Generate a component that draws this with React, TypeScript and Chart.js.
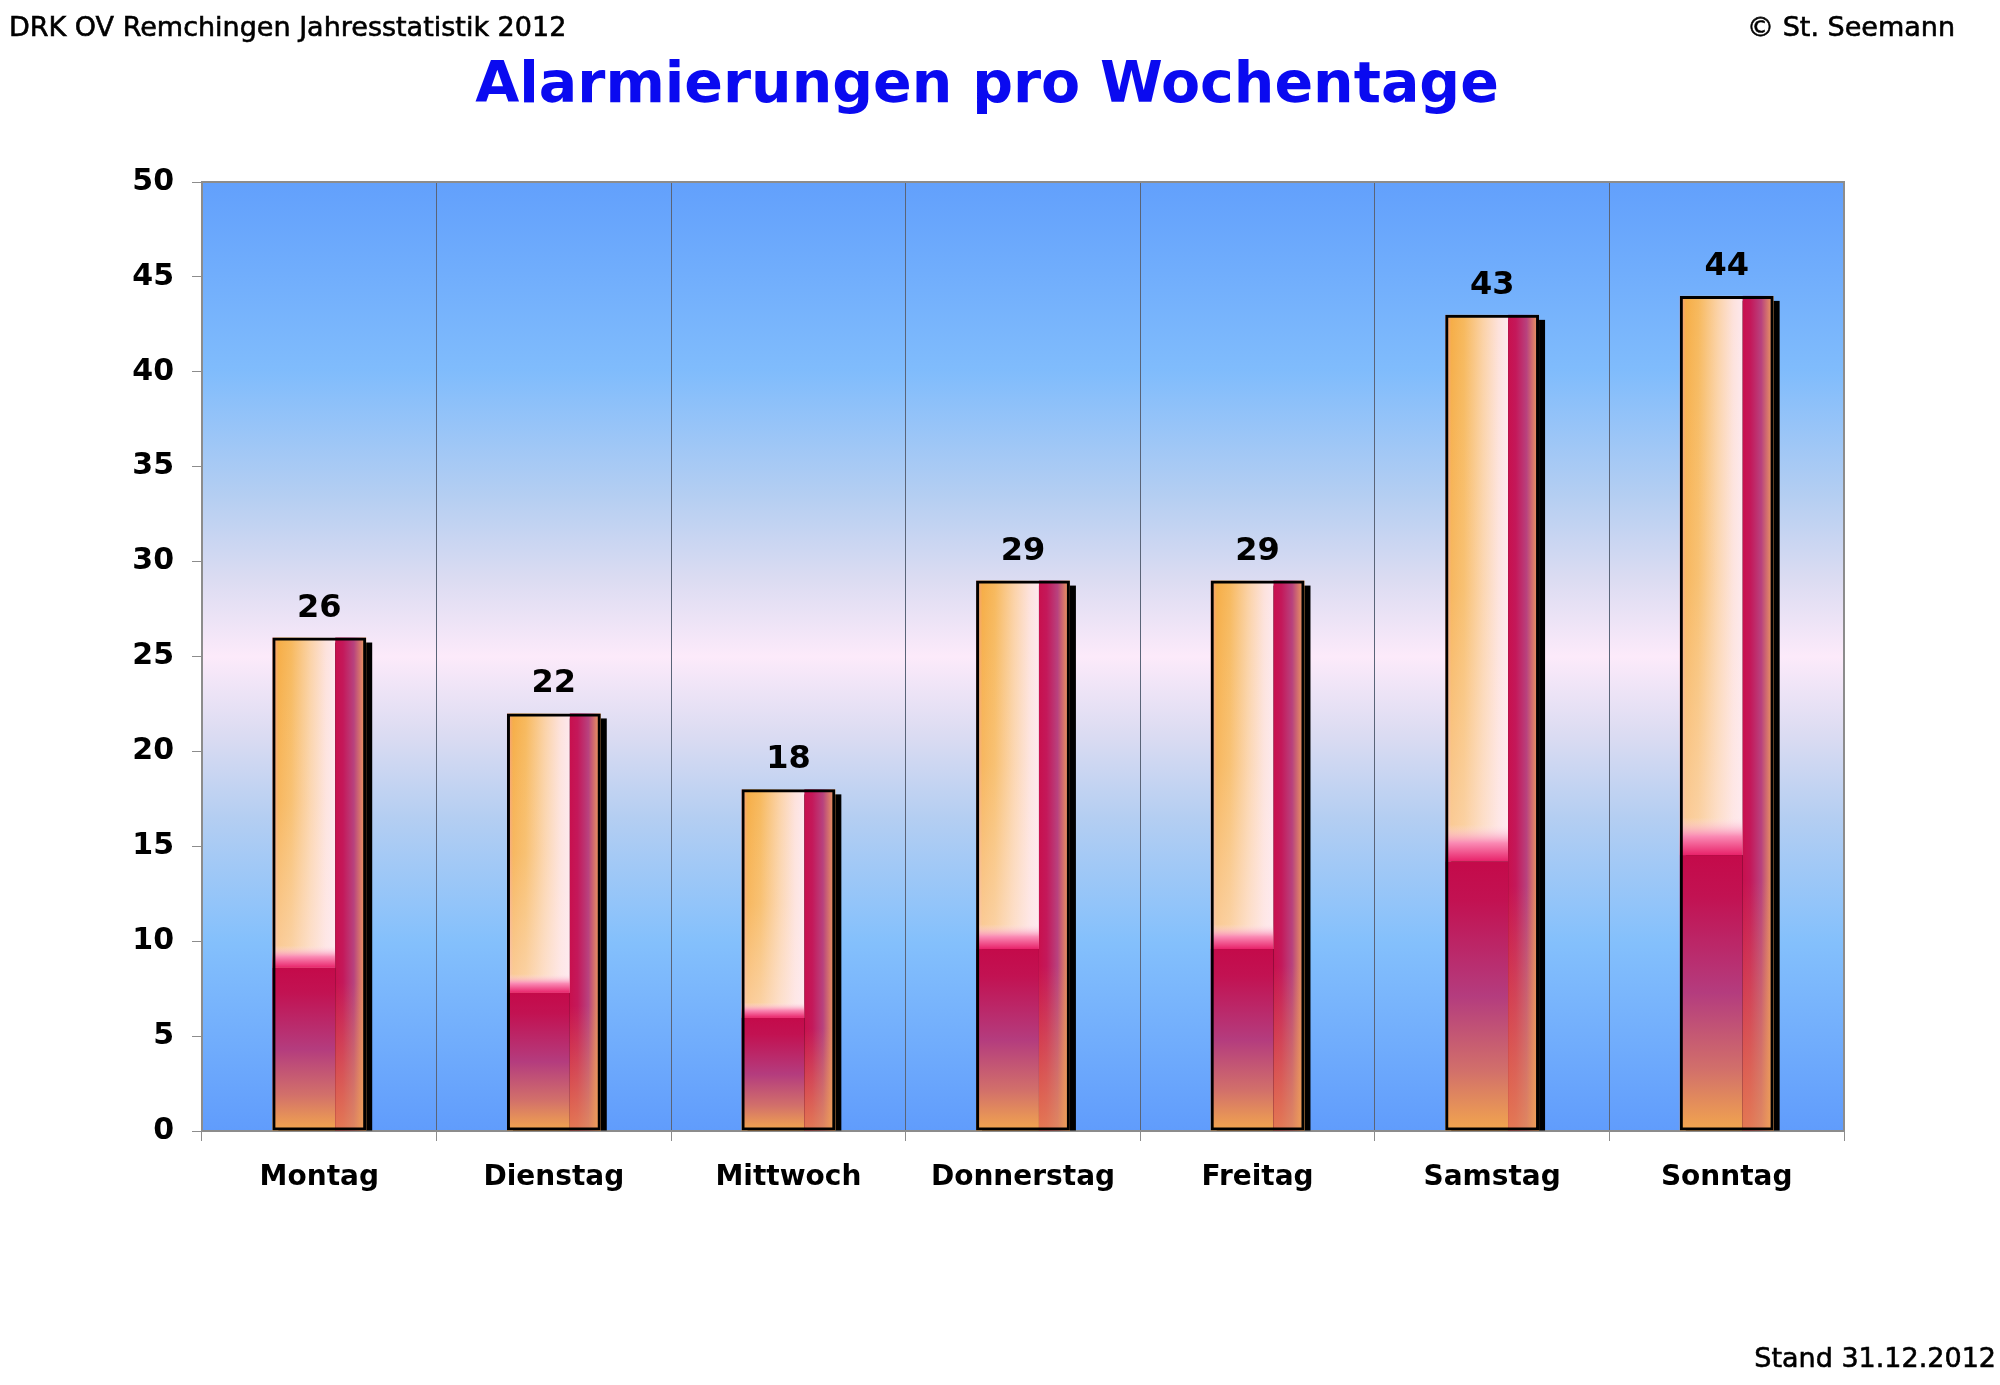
import { useEffect, useRef } from 'react'
import { Chart, registerables } from 'chart.js'

Chart.register(...registerables)

const days = ['Montag', 'Dienstag', 'Mittwoch', 'Donnerstag', 'Freitag', 'Samstag', 'Sonntag']
const alarms = [26, 22, 18, 29, 29, 43, 44]
const yTicks = [0, 5, 10, 15, 20, 25, 30, 35, 40, 45, 50]

const FONT = '"DejaVu Sans", sans-serif'

// fills one bar with the orange / crimson look of the original
function paintBar(ctx: CanvasRenderingContext2D, left: number, top: number, right: number, bottom: number) {
  const w = right - left
  const h = bottom - top
  const sx = left + w * 0.67
  const sy = bottom - h * 0.33

  let g = ctx.createLinearGradient(left, 0, sx, 0)
  g.addColorStop(0, '#f59a8c')
  g.addColorStop(0.1, '#f6ae48')
  g.addColorStop(0.3, '#f7b95e')
  g.addColorStop(0.6, '#fbd2a6')
  g.addColorStop(0.85, '#fde2dc')
  g.addColorStop(1, '#fde8ee')
  ctx.fillStyle = g
  ctx.fillRect(left, top, sx - left, sy - top)

  g = ctx.createLinearGradient(0, top, 0, sy)
  g.addColorStop(0, 'rgba(255,255,255,0)')
  g.addColorStop(0.5, 'rgba(255,240,240,0.15)')
  g.addColorStop(1, 'rgba(255,236,242,0.5)')
  ctx.fillStyle = g
  ctx.fillRect(left, top, sx - left, sy - top)

  const bh = h * 0.045
  g = ctx.createLinearGradient(0, sy - bh, 0, sy)
  g.addColorStop(0, 'rgba(253,226,236,0)')
  g.addColorStop(0.5, '#fa8ab4')
  g.addColorStop(1, '#e8226a')
  ctx.fillStyle = g
  ctx.fillRect(left, sy - bh, sx - left, bh)

  g = ctx.createLinearGradient(0, sy, 0, bottom)
  g.addColorStop(0, '#c40a4a')
  g.addColorStop(0.15, '#c21252')
  g.addColorStop(0.5, '#b43c7e')
  g.addColorStop(0.78, '#d2706a')
  g.addColorStop(1, '#f2a64e')
  ctx.fillStyle = g
  ctx.fillRect(left, sy, sx - left, bottom - sy)

  g = ctx.createLinearGradient(sx, 0, right, 0)
  g.addColorStop(0, '#c8104e')
  g.addColorStop(0.25, '#c4185a')
  g.addColorStop(0.6, '#b8427e')
  g.addColorStop(1, '#f2a45a')
  ctx.fillStyle = g
  ctx.fillRect(sx, top, right - sx, h)

  g = ctx.createLinearGradient(0, bottom - h * 0.3, 0, bottom)
  g.addColorStop(0, 'rgba(240,164,84,0)')
  g.addColorStop(1, 'rgba(240,164,84,0.7)')
  ctx.fillStyle = g
  ctx.fillRect(sx, bottom - h * 0.3, right - sx, h * 0.3)
}

const plotBackground = {
  id: 'plotBackground',
  beforeDraw(chart: Chart) {
    const { ctx, chartArea: a } = chart
    const g = ctx.createLinearGradient(0, a.top, 0, a.bottom)
    g.addColorStop(0, '#62a0fc')
    g.addColorStop(0.2, '#80bcfc')
    g.addColorStop(0.33, '#b4cef2')
    g.addColorStop(0.42, '#dcdcf2')
    g.addColorStop(0.5, '#fceafa')
    g.addColorStop(0.58, '#dcdcf2')
    g.addColorStop(0.67, '#b4cef2')
    g.addColorStop(0.8, '#84c0fc')
    g.addColorStop(1, '#609cfc')
    ctx.save()
    ctx.fillStyle = g
    ctx.fillRect(a.left, a.top, a.right - a.left, a.bottom - a.top)
    ctx.restore()
  },
  afterDraw(chart: Chart) {
    const { ctx, chartArea: a } = chart
    ctx.save()
    ctx.strokeStyle = '#8c8c8c'
    ctx.lineWidth = 2
    ctx.beginPath()
    ctx.moveTo(a.left, a.top)
    ctx.lineTo(a.right, a.top)
    ctx.lineTo(a.right, a.bottom)
    ctx.stroke()
    ctx.restore()
  },
}

const fancyBars = {
  id: 'fancyBars',
  beforeDatasetsDraw(chart: Chart) {
    const { ctx } = chart
    const meta = chart.getDatasetMeta(0)
    ctx.save()
    meta.data.forEach((el: any) => {
      const { x, y, base, width } = el.getProps(['x', 'y', 'base', 'width'], true)
      const left = x - width / 2
      const right = x + width / 2
      ctx.fillStyle = '#000'
      ctx.fillRect(left + 6, y + 5, width, base - y - 5)
      paintBar(ctx, left, y, right, base)
    })
    ctx.restore()
  },
  afterDatasetsDraw(chart: Chart) {
    const { ctx } = chart
    const meta = chart.getDatasetMeta(0)
    ctx.save()
    ctx.fillStyle = '#000'
    ctx.font = `bold 32px ${FONT}`
    ctx.textAlign = 'center'
    ctx.textBaseline = 'alphabetic'
    meta.data.forEach((el: any, i: number) => {
      const { x, y } = el.getProps(['x', 'y'], true)
      ctx.fillText(String(alarms[i]), x, y - 21)
    })
    ctx.restore()
  },
}

export default function App() {
  const canvasRef = useRef<HTMLCanvasElement>(null)

  useEffect(() => {
    document.body.style.margin = '0'
    if (!canvasRef.current) return
    const chart = new Chart(canvasRef.current, {
      type: 'bar',
      data: {
        labels: days,
        datasets: [
          {
            label: 'Alarmierungen',
            data: alarms,
            backgroundColor: 'rgba(0,0,0,0)',
            borderColor: '#000',
            borderWidth: 3,
            borderSkipped: false,
            categoryPercentage: 0.8,
            barPercentage: 0.5,
          },
        ],
      },
      options: {
        animation: false,
        responsive: false,
        layout: { padding: { left: 0, right: 156, top: 182, bottom: 174 } },
        plugins: { legend: { display: false }, tooltip: { enabled: false }, title: { display: false } },
        scales: {
          x: {
            grid: { offset: true, color: '#5a6478', lineWidth: 1, drawTicks: true, tickLength: 10, tickColor: '#8c8c8c' },
            border: { display: true, color: '#8c8c8c', width: 2 },
            ticks: { color: '#000', padding: 20, font: { family: FONT, size: 28, weight: 'bold' } },
            afterFit: (s: any) => {
              s.height = 80
              s.paddingLeft = 0
              s.paddingRight = 0
            },
          },
          y: {
            min: 0,
            max: 50,
            afterBuildTicks: (s: any) => {
              s.ticks = yTicks.map((v) => ({ value: v }))
            },
            grid: { drawOnChartArea: false, drawTicks: true, tickLength: 10, color: '#8c8c8c' },
            border: { display: true, color: '#8c8c8c', width: 2 },
            ticks: { color: '#000', padding: 18, font: { family: FONT, size: 30, weight: 'bold' } },
            afterFit: (s: any) => {
              s.width = 202
              s.paddingTop = 0
              s.paddingBottom = 0
            },
          },
        },
      },
      plugins: [plotBackground, fancyBars],
    })
    return () => chart.destroy()
  }, [])

  const corner: React.CSSProperties = {
    position: 'absolute',
    fontFamily: FONT,
    fontSize: 27,
    color: '#000',
    whiteSpace: 'nowrap',
    lineHeight: 1,
    WebkitTextStroke: '0.6px #000',
  }

  return (
    <div style={{ position: 'relative', width: 2000, height: 1385, background: '#fff', overflow: 'hidden' }}>
      <canvas ref={canvasRef} width={2000} height={1385} style={{ position: 'absolute', left: 0, top: 0 }} />
      <div style={{ ...corner, left: 9, top: 13 }}>DRK OV Remchingen Jahresstatistik 2012</div>
      <div style={{ ...corner, right: 45, top: 13 }}>© St. Seemann</div>
      <div style={{ ...corner, right: 4, top: 1344 }}>Stand 31.12.2012</div>
      <div
        style={{
          position: 'absolute',
          left: 0,
          width: 1974,
          top: 54,
          textAlign: 'center',
          fontFamily: FONT,
          fontWeight: 'bold',
          fontSize: 57,
          lineHeight: 1,
          color: '#0a0af0',
          whiteSpace: 'nowrap',
        }}
      >
        Alarmierungen pro Wochentage
      </div>
    </div>
  )
}
